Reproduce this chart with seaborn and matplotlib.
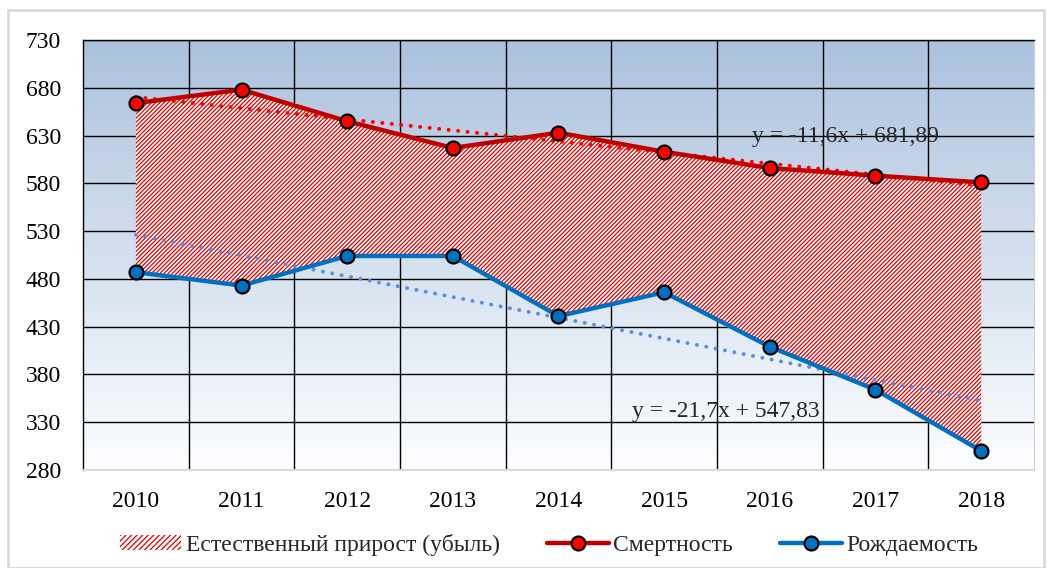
import numpy as np
import pandas as pd
import matplotlib
matplotlib.use("Agg")
import matplotlib.pyplot as plt
import seaborn as sns
from matplotlib.patches import Patch, Rectangle
from matplotlib.lines import Line2D

years = [2010, 2011, 2012, 2013, 2014, 2015, 2016, 2017, 2018]
mortality = [664, 678, 645, 617, 633, 613, 596, 588, 581]
births = [487, 473, 504, 504, 441, 466, 409, 364, 300]
yticks = [280, 330, 380, 430, 480, 530, 580, 630, 680, 730]
mort_trend = (-11.6, 681.89)
birth_trend = (-21.7, 547.83)
lbl_fill = "Естественный прирост (убыль)"
lbl_mort = "Смертность"
lbl_birth = "Рождаемость"
eq_mort = "y = -11,6x + 681,89"
eq_birth = "y = -21,7x + 547,83"

sns.set_style("white")
plt.rcParams['font.family'] = ['Liberation Serif', 'DejaVu Serif']
plt.rcParams['hatch.linewidth'] = 0.9

FS = 17
HATCH = '////////'
fig = plt.figure(figsize=(10.52, 5.68), dpi=100)
fig.patches.append(Rectangle((8/1052, 0), 1 - 16/1052, 1 - 10/568, transform=fig.transFigure,
                             fill=False, edgecolor='#d9d9d9', linewidth=2))
ax = fig.add_axes([83/1052, 98/568, 951/1052, 430/568])

idx = np.arange(1, len(years) + 1)
df = pd.DataFrame({"x": idx, "mort": mortality, "birth": births})

# gradient background (top blue -> bottom white)
grad = np.linspace(0, 1, 256).reshape(-1, 1)
top = np.array([0.67, 0.76, 0.87])
bot = np.array([0.99, 0.995, 1.0])
img = top[None, None, :] * (1 - grad[:, :, None]) + bot[None, None, :] * grad[:, :, None]
ax.imshow(img, extent=[0.5, 9.5, 280, 730], aspect='auto', zorder=0, origin='upper')

ax.fill_between(idx, births, mortality, facecolor='white', edgecolor='#e00000',
                hatch=HATCH, linewidth=0, zorder=2)

xt = np.array([1, 9])
ax.plot(xt, mort_trend[0] * xt + mort_trend[1], color='#ff0000', linestyle=(0, (0.05, 2.4)),
        linewidth=2.8, dash_capstyle='round', zorder=3)
ax.plot(xt, birth_trend[0] * xt + birth_trend[1], color='#5b8fd8', linestyle=(0, (0.05, 2.4)),
        linewidth=2.8, dash_capstyle='round', zorder=3)

sns.lineplot(data=df, x="x", y="mort", ax=ax, color='#c00000', linewidth=3.2,
             marker='o', markersize=10, markerfacecolor='#ff0000', markeredgecolor='black',
             markeredgewidth=1.6, zorder=4)
sns.lineplot(data=df, x="x", y="birth", ax=ax, color='#0070c0', linewidth=3.2,
             marker='o', markersize=10, markerfacecolor='#0070c0', markeredgecolor='black',
             markeredgewidth=1.6, zorder=4)

ax.set_xlim(0.5, 9.5)
ax.set_ylim(280, 730)
ax.set_yticks(yticks)
ax.set_yticklabels([str(v) for v in yticks])
ax.set_xticks(idx)
ax.set_xticklabels([str(y) for y in years])
ax.grid(False)
for v in yticks:
    ax.axhline(v, color='black', linewidth=1.0, zorder=1)
for v in np.arange(1.5, 9.5, 1):
    ax.axvline(v, color='black', linewidth=1.0, zorder=1)
ax.tick_params(axis='both', which='both', length=0, labelsize=FS, colors='black')
ax.tick_params(axis='y', pad=16)
ax.tick_params(axis='x', pad=15)
ax.set_xlabel("")
ax.set_ylabel("")
for s in ['left', 'top']:
    ax.spines[s].set_color('black')
    ax.spines[s].set_linewidth(1.0)
ax.spines['right'].set_color('#d0d0d0')
ax.spines['bottom'].set_color('#d9d9d9')
ax.spines['bottom'].set_linewidth(1.5)

ax.text(7.72, 629, eq_mort, fontsize=FS, ha='center', va='center', zorder=5)
ax.text(6.585, 341, eq_birth, fontsize=FS, ha='center', va='center', zorder=5)

handles = [
    Patch(facecolor='white', edgecolor='#e00000', hatch='//////', linewidth=0),
    Line2D([0], [0], color='#c00000', linewidth=3.2, marker='o', markersize=10,
           markerfacecolor='#ff0000', markeredgecolor='black', markeredgewidth=1.6),
    Line2D([0], [0], color='#0070c0', linewidth=3.2, marker='o', markersize=10,
           markerfacecolor='#0070c0', markeredgecolor='black', markeredgewidth=1.6),
]
fig.legend(handles, [lbl_fill, lbl_mort, lbl_birth], loc='center', bbox_to_anchor=(0.522, 0.04),
           ncol=3, frameon=False, fontsize=FS, handlelength=2.6, handleheight=0.6,
           handletextpad=0.2, columnspacing=2.0)

fig.savefig("out.png", dpi=100)
